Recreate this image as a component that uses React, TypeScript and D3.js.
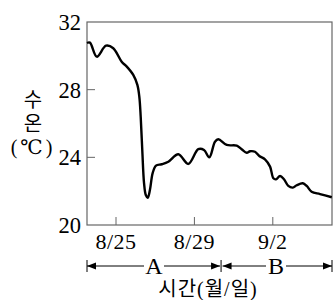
import React from "react";
import * as d3 from "d3";

// days counted from 8/25 (0), temperature in °C
const days = [-1.48, -1.33, -0.98, -0.51, -0.14, 0.29, 0.55, 0.88, 1.09, 1.19, 1.26, 1.34, 1.43, 1.52, 1.62, 1.73, 1.87, 2.04, 2.33, 2.67, 3.18, 3.69, 4.2, 4.49, 4.76, 5.05, 5.22, 5.65, 6.16, 6.41, 6.67, 6.84, 7.09, 7.31, 7.6, 7.86, 8.03, 8.16, 8.37, 8.57, 8.79, 9.02, 9.22, 9.53, 9.73, 9.98, 10.41, 11.01];
const temps = [30.76, 30.78, 29.95, 30.6, 30.45, 29.65, 29.36, 28.87, 28.28, 27.58, 26.4, 24.43, 22.48, 21.77, 21.61, 22.07, 23.07, 23.51, 23.59, 23.74, 24.18, 23.61, 24.48, 24.43, 24.0, 24.92, 25.07, 24.73, 24.69, 24.48, 24.27, 24.36, 24.33, 24.08, 23.88, 23.45, 22.76, 22.7, 22.9, 22.7, 22.31, 22.21, 22.35, 22.47, 22.31, 21.97, 21.83, 21.64];

const xTicks = [0, 4, 8];
const xTickLabels = ["8/25", "8/29", "9/2"];
const yTicks = [20, 24, 28, 32];
const periods = ["A", "B"];
const periodBounds = [-1.48, 5.36, 11.02];

const serif = "'Liberation Serif', 'DejaVu Serif', 'Noto Sans CJK KR', serif";

export default function App() {
  const left = 87, right = 332, top = 22, bottom = 225;
  const x = d3.scaleLinear().domain([-1.48, 11.02]).range([left, right]);
  const y = d3.scaleLinear().domain([20, 32]).range([bottom, top]);

  const pts: [number, number][] = days.map((d, i) => [d, temps[i]]);
  const line = d3.line<[number, number]>()
    .x(d => x(d[0]))
    .y(d => y(d[1]))
    .curve(d3.curveCatmullRom.alpha(0.5));

  const arrowY = 266;
  const labelX = [154, 276];

  const arrowHead = (xt: number, dir: number) =>
    `M${xt},${arrowY} L${xt - dir * 9},${arrowY - 3.5} L${xt - dir * 9},${arrowY + 3.5} Z`;

  return (
    <svg width={336} height={300} style={{ position: "absolute", left: 0, top: 0 }}>
      <rect x={left} y={top} width={right - left} height={bottom - top}
        fill="none" stroke="#666" strokeWidth={1.2} />

      {yTicks.map(t => (
        <g key={t}>
          {t !== 20 && t !== 32 && (
            <line x1={left} x2={left + 8} y1={y(t)} y2={y(t)} stroke="#666" strokeWidth={1} />
          )}
          <text x={81} y={y(t)} dy="0.35em" textAnchor="end" fontFamily={serif} fontSize={22.5}>{t}</text>
        </g>
      ))}

      {xTicks.map((t, i) => (
        <g key={t}>
          <line x1={x(t)} x2={x(t)} y1={bottom} y2={bottom - 8} stroke="#666" strokeWidth={1} />
          <text x={x(t)} y={249} textAnchor="middle" fontFamily={serif} fontSize={22} letterSpacing={0.5}>{xTickLabels[i]}</text>
        </g>
      ))}

      <path d={line(pts) || ""} fill="none" stroke="#000" strokeWidth={2.4} strokeLinejoin="round" />

      {periods.map((p, i) => {
        const x0 = x(periodBounds[i]) + (i === 0 ? 0 : 1.5);
        const x1 = x(periodBounds[i + 1]) - (i === 0 ? 1 : 0);
        const lx = labelX[i];
        return (
          <g key={p}>
            <line x1={x0} x2={lx - 10} y1={arrowY} y2={arrowY} stroke="#000" strokeWidth={1} />
            <line x1={lx + 10} x2={x1} y1={arrowY} y2={arrowY} stroke="#000" strokeWidth={1} />
            <path d={arrowHead(x0, -1)} fill="#000" />
            <path d={arrowHead(x1, 1)} fill="#000" />
            <text x={lx} y={arrowY} dy="0.35em" textAnchor="middle" fontFamily={serif} fontSize={24}>{p}</text>
          </g>
        );
      })}
      {[left, x(periodBounds[1]), right].map((bx, i) => (
        <line key={i} x1={bx} x2={bx} y1={arrowY - 6} y2={arrowY + 6} stroke="#000" strokeWidth={1} />
      ))}

      <text x={208} y={296} textAnchor="middle" fontFamily={serif} fontSize={20} letterSpacing={1}>시간(월/일)</text>

      <text x={33} y={100} dy="0.35em" textAnchor="middle" fontFamily={serif} fontSize={20}>수</text>
      <text x={33} y={124} dy="0.35em" textAnchor="middle" fontFamily={serif} fontSize={20}>온</text>
      <text x={33} y={147} dy="0.35em" textAnchor="middle" fontFamily={serif} fontSize={20} letterSpacing={3}>(℃)</text>
    </svg>
  );
}
